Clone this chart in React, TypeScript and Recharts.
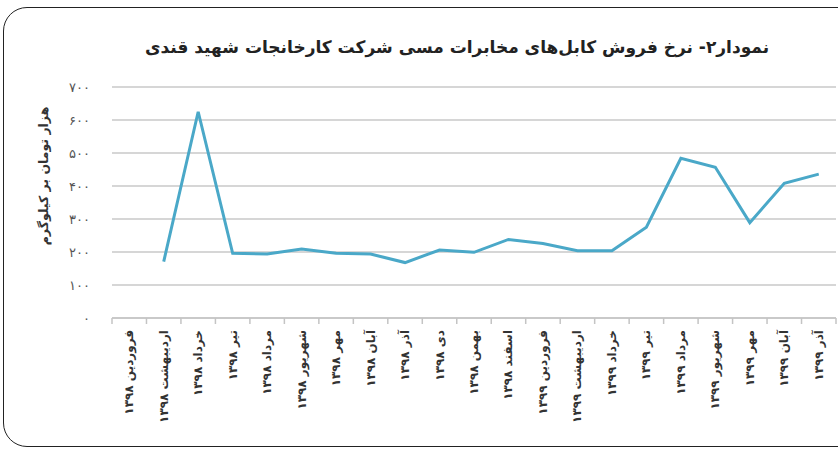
import { LineChart, Line, XAxis, YAxis, CartesianGrid } from 'recharts'

const categories = [
  'فروردین ۱۳۹۸', 'اردیبهشت ۱۳۹۸', 'خرداد ۱۳۹۸', 'تیر ۱۳۹۸', 'مرداد ۱۳۹۸',
  'شهریور ۱۳۹۸', 'مهر ۱۳۹۸', 'آبان ۱۳۹۸', 'آذر ۱۳۹۸', 'دی ۱۳۹۸',
  'بهمن ۱۳۹۸', 'اسفند ۱۳۹۸', 'فروردین ۱۳۹۹', 'اردیبهشت ۱۳۹۹', 'خرداد ۱۳۹۹',
  'تیر ۱۳۹۹', 'مرداد ۱۳۹۹', 'شهریور ۱۳۹۹', 'مهر ۱۳۹۹', 'آبان ۱۳۹۹', 'آذر ۱۳۹۹',
]

// هزار تومان بر کیلوگرم
const prices = [
  null, 171, 625, 196, 194, 209, 196, 194, 168, 206,
  199, 238, 226, 204, 204, 275, 484, 457, 289, 408, 436,
]

const yTicks = [0, 100, 200, 300, 400, 500, 600, 700]

const title = 'نمودار۲- نرخ فروش کابل‌های مخابرات مسی شرکت کارخانجات شهید قندی'
const yLabel = 'هزار تومان بر کیلوگرم'

const data = categories.map((name, i) => ({ pos: i + 0.5, name, price: prices[i] }))
const labelTicks = data.map(d => d.pos)
const boundaryTicks = [0, ...categories.map((_, i) => i + 1)]

const FONT = '"DejaVu Sans", sans-serif'
const faDigits = (n: number) => String(n).replace(/\d/g, d => '۰۱۲۳۴۵۶۷۸۹'[Number(d)])

function MonthTick({ x, y, payload }: any) {
  const name = categories[Math.floor(payload.value)]
  return (
    <text
      x={x}
      y={y}
      transform={`rotate(-90, ${x}, ${y})`}
      textAnchor="end"
      dominantBaseline="central"
      fontSize={12}
      fontWeight="bold"
      fontFamily={FONT}
      fill="#333"
    >
      {name}
    </text>
  )
}

function YTitle({ viewBox }: any) {
  const x = viewBox.x + 43
  const y = 176
  return (
    <text
      x={x}
      y={y}
      transform={`rotate(-90, ${x}, ${y})`}
      textAnchor="middle"
      dominantBaseline="central"
      fontSize={12.5}
      fontWeight="bold"
      fontFamily={FONT}
      fill="#333"
    >
      {yLabel}
    </text>
  )
}

export default function App() {
  return (
    <div style={{ position: 'absolute', left: 0, top: 0, width: 838, height: 450, overflow: 'hidden', background: '#fff' }}>
      <div
        style={{
          position: 'absolute', left: 3, top: 7, width: 880, height: 440,
          border: '1.5px solid #222', borderRadius: 24, boxSizing: 'border-box',
        }}
      />
      <div
        style={{
          position: 'absolute', left: 107, top: 37, width: 700, textAlign: 'center', whiteSpace: 'nowrap',
          direction: 'rtl', fontFamily: FONT, fontWeight: 'bold', fontSize: 17, color: '#222',
        }}
      >
        {title}
      </div>
      <div style={{ position: 'absolute', left: 0, top: 0 }}>
        <LineChart width={838} height={450} data={data} margin={{ top: 87, right: 2, bottom: 7, left: 0 }}>
          <CartesianGrid horizontal vertical={false} stroke="#d6d6d6" strokeWidth={2} xAxisId="axis" />
          <XAxis
            xAxisId="axis"
            dataKey="pos"
            type="number"
            domain={[0, categories.length]}
            ticks={boundaryTicks}
            tickFormatter={() => ''}
            tickSize={6}
            height={8}
            stroke="#c4c4c4"
            strokeWidth={1.5}
          />
          <XAxis
            xAxisId="labels"
            dataKey="pos"
            type="number"
            domain={[0, categories.length]}
            ticks={labelTicks}
            tick={<MonthTick />}
            axisLine={false}
            tickLine={false}
            tickSize={0}
            tickMargin={4}
            height={117}
            interval={0}
          />
          <YAxis
            domain={[0, 700]}
            ticks={yTicks}
            width={112}
            axisLine={false}
            tickLine={false}
            tickSize={0}
            tickMargin={22}
            tickFormatter={faDigits}
            tick={{ fill: '#555', fontSize: 13, fontFamily: FONT }}
            label={{ content: <YTitle /> }}
          />
          <Line
            xAxisId="axis"
            dataKey="price"
            type="linear"
            stroke="#4aa8c8"
            strokeWidth={3}
            dot={false}
            isAnimationActive={false}
          />
        </LineChart>
      </div>
    </div>
  )
}
